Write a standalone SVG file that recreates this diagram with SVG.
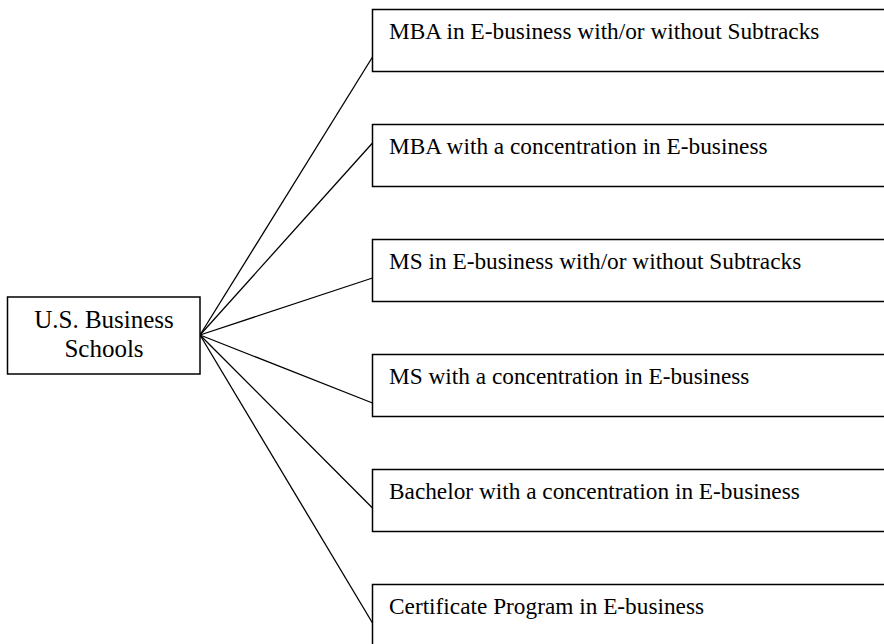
<svg xmlns="http://www.w3.org/2000/svg" width="884" height="644" viewBox="0 0 884 644">
<style>
.box{fill:#fff;stroke:#000;stroke-width:1.5}
.ln{stroke:#000;stroke-width:1.3;fill:none}
.t{font-family:"Liberation Serif","Times New Roman",serif;font-size:23.3px;fill:#000}
.tl{font-family:"Liberation Serif","Times New Roman",serif;font-size:25px;fill:#000;text-anchor:middle}
</style>
<rect width="884" height="644" fill="#fff"/>
<g id="connectors">
<line class="ln" x1="200" y1="335" x2="372.5" y2="57"/>
<line class="ln" x1="200" y1="335" x2="372.5" y2="143"/>
<line class="ln" x1="200" y1="335" x2="372.5" y2="278"/>
<line class="ln" x1="200" y1="335" x2="372.5" y2="403"/>
<line class="ln" x1="200" y1="335" x2="372.5" y2="508"/>
<line class="ln" x1="200" y1="335" x2="372.5" y2="623"/>
</g>
<g id="root">
<rect class="box" x="7.5" y="297" width="192.5" height="77"/>
<text class="tl" x="104" y="328">U.S. Business</text>
<text class="tl" x="104" y="357">Schools</text>
</g>
<g id="n1">
<rect class="box" x="372.5" y="9.5" width="530" height="62"/>
<text class="t" x="389" y="39">MBA in E-business with/or without Subtracks</text>
</g>
<g id="n2">
<rect class="box" x="372.5" y="124.5" width="530" height="62"/>
<text class="t" x="389" y="154">MBA with a concentration in E-business</text>
</g>
<g id="n3">
<rect class="box" x="372.5" y="239.5" width="530" height="62"/>
<text class="t" x="389" y="269">MS in E-business with/or without Subtracks</text>
</g>
<g id="n4">
<rect class="box" x="372.5" y="354.5" width="530" height="62"/>
<text class="t" x="389" y="384">MS with a concentration in E-business</text>
</g>
<g id="n5">
<rect class="box" x="372.5" y="469.5" width="530" height="62"/>
<text class="t" x="389" y="499">Bachelor with a concentration in E-business</text>
</g>
<g id="n6">
<rect class="box" x="372.5" y="584.5" width="530" height="62"/>
<text class="t" x="389" y="614">Certificate Program in E-business</text>
</g>
</svg>
